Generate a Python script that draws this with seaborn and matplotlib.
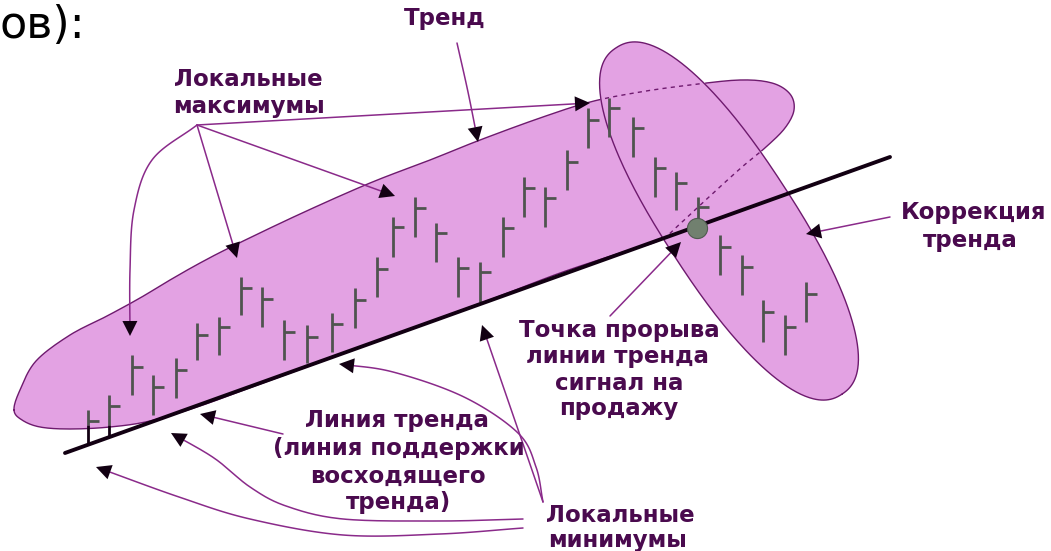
import numpy as np
import pandas as pd
import matplotlib
matplotlib.use("Agg")
import matplotlib.pyplot as plt
import seaborn as sns
from matplotlib.path import Path

# ---------------- data (pixel-like units) ----------------
bar_x = [88, 109, 132, 153, 176, 197, 219, 241, 262, 284, 307, 332, 355, 377, 393,
         415, 436, 458, 480, 503, 524, 545, 567, 588, 609, 633, 655, 676, 698, 720,
         742, 763, 785, 806]
bar_high = [410, 395, 355, 375, 358, 323, 317, 277, 287, 320, 325, 313, 288, 257, 217,
            197, 223, 257, 262, 217, 177, 187, 150, 108, 98, 117, 157, 172, 197, 235,
            255, 300, 315, 282]
bar_low = [425, 425, 395, 415, 398, 360, 355, 315, 327, 360, 363, 352, 328, 297, 257,
           237, 262, 297, 302, 257, 217, 227, 190, 148, 137, 157, 197, 210, 233, 275,
           295, 342, 355, 322]
bar_close = [421, 406, 367, 387, 370, 335, 327, 288, 299, 332, 337, 324, 300, 269, 227,
             208, 233, 268, 272, 228, 188, 198, 162, 120, 108, 128, 168, 183, 207, 247,
             267, 312, 327, 294]
touch_bars = [0, 1]          # bars whose lows touch the trend line

trend_x = [65, 890]
trend_y = [453, 157]
break_x = [697]
break_y = [228]

# ---------------- style ----------------
PINK = "#e3a2e3"
EDGE = "#6e1a6e"
ARROW_LINE = "#8a2a8a"
TEXT = "#4a0a4e"
BAR = "#4f544f"
BLACK = "#120012"

sns.set_theme(style="white")
plt.rcParams["font.family"] = ["DejaVu Sans"]

fig = plt.figure(figsize=(10.51, 5.51), dpi=100)
ax = fig.add_axes([0, 0, 1, 1])
ax.set_xlim(0, 1051)
ax.set_ylim(551, 0)
ax.axis("off")


def catmull(pts, closed=False, n=16):
    P = np.asarray(pts, float)
    if closed:
        P = np.vstack([P[-1], P, P[0], P[1]])
    else:
        P = np.vstack([2 * P[0] - P[1], P, 2 * P[-1] - P[-2]])
    out = []
    for i in range(1, len(P) - 2):
        p0, p1, p2, p3 = P[i - 1], P[i], P[i + 1], P[i + 2]
        t = np.linspace(0, 1, n, endpoint=False)[:, None]
        seg = 0.5 * ((2 * p1) + (-p0 + p2) * t + (2 * p0 - 5 * p1 + 4 * p2 - p3) * t ** 2
                     + (-p0 + 3 * p1 - 3 * p2 + p3) * t ** 3)
        out.append(seg)
    out.append(P[-2][None, :])
    return np.vstack(out)


# ---------------- big trend blob ----------------
blob_outline = [(14, 410), (20, 390), (36, 361), (70, 335), (107, 316), (140, 298),
                (170, 280), (200, 263), (233, 246), (300, 214), (370, 183), (430, 160),
                (480, 140), (540, 118), (590, 102), (640, 92), (690, 85), (740, 80),
                (772, 83), (790, 94), (794, 110), (785, 128), (766, 147), (742, 167),
                (710, 196), (682, 222), (660, 240), (620, 253), (560, 273), (500, 296),
                (440, 318), (380, 340), (320, 362), (260, 384), (200, 406), (150, 421),
                (110, 427), (70, 429), (40, 427), (22, 420)]
blob = catmull(blob_outline, closed=True, n=10)

# ---------------- correction ellipse ----------------
cc = np.array([729.0, 221.0])
u = np.array([0.545, 0.837])
v = np.array([0.837, -0.545])
th = np.linspace(0, 2 * np.pi, 400)
cs, sn = np.cos(th), np.sin(th)
ex = np.sign(cs) * np.abs(cs) ** (2 / 2.3)
ey = np.sign(sn) * np.abs(sn) ** (2 / 2.3)
corr = cc + np.outer(207 * ex, u) + np.outer(65 * ey, v)

ax.fill(blob[:, 0], blob[:, 1], color=PINK, zorder=1, lw=0)
ax.fill(corr[:, 0], corr[:, 1], color=PINK, zorder=2, lw=0)
ax.plot(corr[:, 0], corr[:, 1], color=EDGE, lw=1.0, zorder=3)

inside = Path(corr).contains_points(blob)
solid = blob.copy()
solid[inside] = np.nan
dashed = blob.copy()
dashed[~inside] = np.nan
ax.plot(solid[:, 0], solid[:, 1], color=EDGE, lw=1.0, zorder=3)
ax.plot(dashed[:, 0], dashed[:, 1], color=EDGE, lw=1.0, ls=(0, (3, 3)), zorder=3)

# ---------------- bars ----------------
ax.vlines(bar_x, bar_high, bar_low, color=BAR, lw=2.0, zorder=4)
ax.hlines(bar_close, bar_x, np.array(bar_x) + 11, color=BAR, lw=2.0, zorder=4)

# ---------------- trend line ----------------
trend = pd.DataFrame({"x": trend_x, "y": trend_y})
sns.lineplot(data=trend, x="x", y="y", ax=ax, color=BLACK, lw=2.8, zorder=6,
             sort=False, estimator=None)
ax.set_xlim(0, 1051)
ax.set_ylim(551, 0)
ax.axis("off")

slope = (trend_y[1] - trend_y[0]) / (trend_x[1] - trend_x[0])
for i in touch_bars:
    yl = trend_y[0] + slope * (bar_x[i] - trend_x[0])
    ax.vlines(bar_x[i], bar_low[i], yl, color=BLACK, lw=2.0, zorder=6)

sns.scatterplot(x=break_x, y=break_y, ax=ax, s=210, color="#71806f",
                edgecolor="#505a50", linewidth=0.8, zorder=7)


# ---------------- annotation arrows ----------------
def arrow(pts, L=15, W=7.5):
    P = catmull(pts, n=24) if len(pts) > 2 else np.linspace(pts[0], pts[1], 60)
    tip = P[-1]
    dist = np.hypot(*(P - tip).T)
    idx = np.where(dist >= L)[0][-1]
    d = tip - P[idx]
    d = d / np.hypot(*d)
    base = tip - L * d
    nrm = np.array([-d[1], d[0]])
    line = np.vstack([P[:idx + 1], base])
    ax.plot(line[:, 0], line[:, 1], color=ARROW_LINE, lw=1.1, zorder=8)
    tri = np.array([tip, base + W * nrm, base - W * nrm])
    ax.fill(tri[:, 0], tri[:, 1], color=BLACK, zorder=9, lw=0)


hub = (197, 125)
arrow([(457, 43), (468, 92), (478, 142)])
arrow([hub, (590, 103)])
arrow([hub, (395, 196)])
arrow([hub, (237, 258)])
arrow([hub, (152, 160), (134, 210), (130, 270), (130, 336)])
arrow([(890, 217), (806, 234)])
arrow([(610, 316), (681, 242)])
arrow([(283, 434), (200, 414)])
arrow([(523, 528), (440, 534), (343, 535), (250, 519), (179, 497), (96, 467)])
arrow([(523, 519), (440, 521), (343, 519), (286, 506), (250, 487), (214, 458), (171, 433)])
arrow([(543, 502), (536, 467), (518, 433), (464, 397), (393, 372), (339, 364)])
arrow([(543, 502), (482, 325)])

# ---------------- texts ----------------
kw = dict(color=TEXT, fontsize=16.5, fontweight="bold", ha="center", va="center", zorder=10)
labels = [
    ("Тренд", 445, 18),
    ("Локальные", 248, 80), ("максимумы", 249, 106),
    ("Коррекция", 974, 212), ("тренда", 970, 240),
    ("Точка прорыва", 619, 330), ("линии тренда", 617, 357),
    ("сигнал на", 619, 383), ("продажу", 619, 408),
    ("Линия тренда", 397, 421), ("(линия поддержки", 399, 449),
    ("восходящего", 398, 476), ("тренда)", 398, 502),
    ("Локальные", 620, 516), ("минимумы", 618, 540),
]
for s, x, y in labels:
    ax.text(x, y, s, **kw)

ax.text(0, 26, "ов):", color="black", fontsize=32, ha="left", va="center", zorder=10)

fig.savefig("out.png", dpi=100)
